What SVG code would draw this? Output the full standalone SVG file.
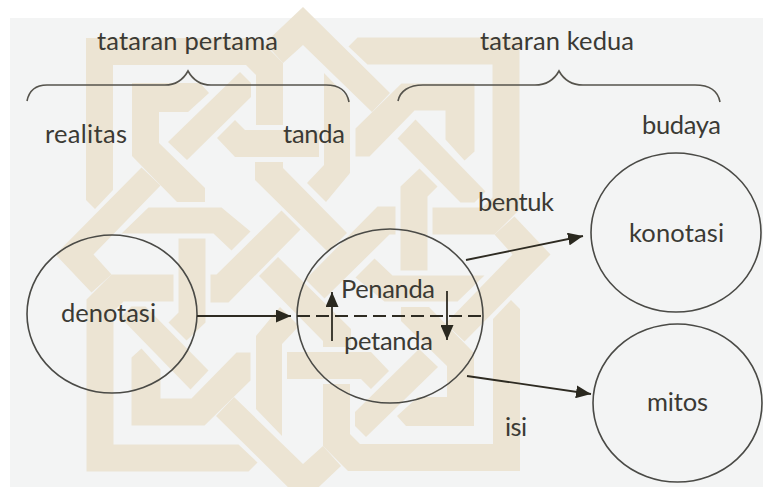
<svg xmlns="http://www.w3.org/2000/svg" xmlns:xlink="http://www.w3.org/1999/xlink" width="763" height="487" viewBox="0 0 763 487">
<style>
.bg{fill:#f3f4f4}
#wmq polygon{fill:#ece4d3}
.c{fill:none;stroke:#4a4a46;stroke-width:1.6}
.l{fill:none;stroke:#2e2b22;stroke-width:1.8}
.b{fill:none;stroke:#55534c;stroke-width:1.6}
text{font-family:"Lato","Carlito","Liberation Sans",sans-serif;font-size:25.500px;fill:#3b3a34}
</style>
<defs>
<marker id="ah" markerUnits="userSpaceOnUse" markerWidth="15" markerHeight="13" refX="15" refY="6.5" orient="auto"><path d="M0 0L15 6.5L0 13Z" fill="#2a281f"/></marker>
<g id="wmq">
<polygon points="86,38 258,38 283,63 283,125 256,125 256,75 246,65 113,65 113,190 95,209 86,200"/>
<polygon points="303,7 390,93 372,112 303,45 283,63 265,43"/>
<polygon points="132,83 200,83 209,93 188,112 159,112 159,143 205,188 205,202 177,202 132,156"/>
<polygon points="240,72 251,83 251,97 187,160 168,142"/>
<polygon points="235,120 245,130 319,130 319,157 235,157 217,138"/>
<polygon points="324,73 350,100 350,173 326,202 307,183 324,165"/>
<polygon points="255,162 283,162 283,168 347,233 328,252 255,180"/>
</g>
</defs>
<rect width="763" height="487" fill="#fff"/>
<rect class="bg" x="10" y="18" width="753" height="469"/>
<g id="watermark">
<use xlink:href="#wmq" href="#wmq"/>
<use xlink:href="#wmq" href="#wmq" transform="rotate(90 303 254.5)"/>
<use xlink:href="#wmq" href="#wmq" transform="rotate(180 303 254.5)"/>
<use xlink:href="#wmq" href="#wmq" transform="rotate(270 303 254.5)"/>
</g>
<g id="brace-pertama"><path class="b" d="M27 101C29 91 36 85 47 85L165 85C175 85 183 80 188 71C193 80 201 85 211 85L326 85C339 85 347 91 349 102"/><text x="97" y="50" textLength="181">tataran pertama</text></g>
<g id="brace-kedua"><path class="b" d="M398 101C400 91 409 85 423 85L535 85C546 85 554 80 559 71C564 80 572 85 583 85L695 85C709 85 718 91 720 102"/><text x="480" y="50" textLength="154">tataran kedua</text></g>
<g id="realitas"><text x="45" y="143" textLength="82">realitas</text></g>
<g id="tanda"><text x="283" y="143" textLength="62">tanda</text></g>
<g id="budaya"><text x="642" y="134" textLength="79">budaya</text></g>
<g id="bentuk"><text x="478" y="211" textLength="76">bentuk</text></g>
<g id="isi"><text x="505" y="436" textLength="22">isi</text></g>
<g id="denotasi"><ellipse class="c" cx="112" cy="314" rx="85" ry="79"/><text x="61" y="322" textLength="95">denotasi</text></g>
<g id="tanda-circle"><ellipse class="c" cx="390" cy="316" rx="93" ry="87"/><text x="341" y="298" textLength="94">Penanda</text><text x="344" y="350" textLength="89">petanda</text></g>
<g id="konotasi"><ellipse class="c" cx="676" cy="232.500" rx="85" ry="79.500"/><text x="629" y="242" textLength="95">konotasi</text></g>
<g id="mitos"><ellipse class="c" cx="677.500" cy="403" rx="84.500" ry="79"/><text x="647" y="411" textLength="61">mitos</text></g>
<g id="connectors">
<line class="l" x1="197" y1="316" x2="291" y2="316" marker-end="url(#ah)"/>
<line class="l" x1="297" y1="316" x2="483" y2="316" stroke-dasharray="13 6"/>
<line class="l" x1="332" y1="341" x2="332" y2="292" marker-end="url(#ah)"/>
<line class="l" x1="447" y1="291" x2="447" y2="340" marker-end="url(#ah)"/>
<line class="l" x1="466" y1="260" x2="583" y2="236" marker-end="url(#ah)"/>
<line class="l" x1="467" y1="376" x2="591" y2="394" marker-end="url(#ah)"/>
</g>
</svg>
